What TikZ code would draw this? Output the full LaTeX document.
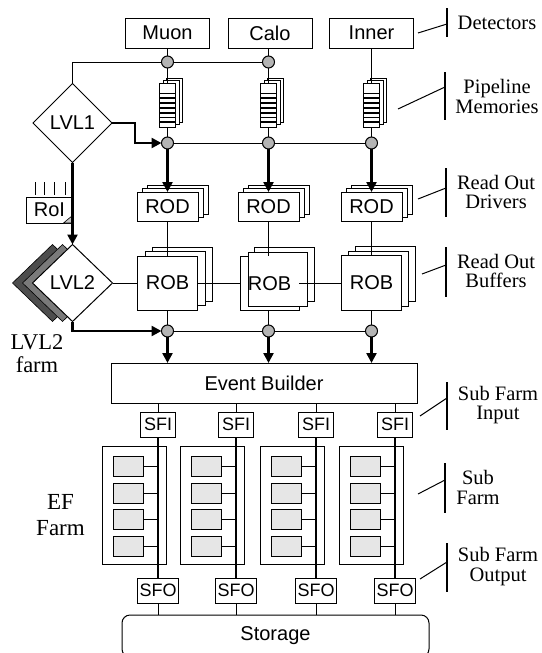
\documentclass[tikz,border=0pt]{standalone}
\usepackage{fontspec}
\setmainfont{Liberation Sans}
\newfontfamily\labelserif{Liberation Serif}
\usetikzlibrary{arrows.meta,shapes.geometric}
\definecolor{jgray}{HTML}{B4B4B4}
\definecolor{cgray}{HTML}{E6E6E6}
\definecolor{gdark}{HTML}{4D4D4D}
\definecolor{gmid}{HTML}{7A7A7A}
\tikzset{
  box/.style={draw,fill=white,line width=1pt,inner sep=0pt,outer sep=0pt,font=\fontsize{20}{22}\selectfont},
  smallbox/.style={box,font=\fontsize{18}{20}\selectfont},
  backbox/.style={draw,fill=white,line width=1pt},
  junc/.style={circle,draw,fill=jgray,line width=1pt,minimum size=12pt,inner sep=0pt,outer sep=0pt},
  conn/.style={line width=1pt},
  busline/.style={line width=2pt},
  thickarrow/.style={line width=2.4pt,-{Triangle[length=10pt,width=10pt]}},
  lbl/.style={font=\labelserif\fontsize{20.5}{19.5}\selectfont,align=center,inner sep=0pt},
  diam/.style={diamond,draw,fill=white,line width=1pt,inner sep=0pt,outer sep=0pt,minimum width=80pt,minimum height=77pt,font=\fontsize{20}{22}\selectfont},
  bracket/.style={line width=1.3pt},
}
\begin{document}
\begin{tikzpicture}[x=1pt,y=-1pt]
\useasboundingbox (0,0) rectangle (541,653);
\clip (0,0) rectangle (541,653);

% ---------- detectors
\node[box,minimum width=84pt,minimum height=30pt] (muon) at (167.5,33) {Muon};
\node[box,minimum width=84pt,minimum height=30pt] (calo) at (270,33) {Calo};
\node[box,minimum width=84pt,minimum height=30pt] (inner) at (371.5,33) {Inner};

% ---------- pipeline memories
\foreach \nn/\cx in {m/167.5,c/268.5,i/371.5}{
  \draw[backbox] ({\cx-1},78) rectangle ({\cx+15},122);
  \draw[backbox] ({\cx-4.5},80.5) rectangle ({\cx+11.5},124.5);
  \node[box,minimum width=16pt,minimum height=44pt] (p\nn) at (\cx,105) {};
  \foreach \kk in {0,...,6}
    \draw[line width=1.8pt] ({\cx-8},{93.5+4.8*\kk}) -- ({\cx+8},{93.5+4.8*\kk});
}

% ---------- junctions
\node[junc] (j1m) at (167.5,62) {};
\node[junc] (j1c) at (268.5,62) {};
\foreach \nn/\cx in {m/167.5,c/268.5,i/371.5}{
  \node[junc] (j2\nn) at (\cx,143) {};
  \node[junc] (j3\nn) at (\cx,331) {};
}

% ---------- LVL1 and RoI
\node[diam,minimum width=79pt,minimum height=79pt] (lvl1) at (72.5,123) {LVL1};
\foreach \xx in {35,44,54,65} \draw[conn] (\xx,182) -- (\xx,195);
\node[box,minimum width=46pt,minimum height=26pt] (roi) at (49.5,210) {RoI};
\filldraw[fill=gray!45,line width=0.6pt] (63.5,223) -- (72.5,215.5) -- (72.5,223) -- cycle;

% ---------- LVL2 farm
\node[diam,fill=gdark,line width=0.6pt] (lvl2b) at (52.5,283) {};
\node[diam,fill=gmid,line width=0.6pt] (lvl2a) at (62.5,283) {};
\node[diam] (lvl2) at (72.5,283) {LVL2};

% ---------- RODs
\foreach \nn/\cx in {m/167.5,c/268.5,i/371.5}{
  \draw[backbox] ({\cx-20.5},185) rectangle ({\cx+40.5},214);
  \draw[backbox] ({\cx-25.5},188.5) rectangle ({\cx+35.5},217.5);
  \node[box,minimum width=61pt,minimum height=29pt] (rod\nn) at (\cx,206.5) {ROD};
}

% ---------- ROBs
\draw[backbox] (152.5,247) rectangle (212.5,301);
\draw[backbox] (145,251.5) rectangle (205,305.5);
\node[box,minimum width=60pt,minimum height=54pt] (robm) at (167.5,283) {ROB};

\coordinate (robcsw) at (240,310);
\coordinate (robcne) at (299,256);
\draw[backbox] (254,247) rectangle (314,301);
\draw[backbox] (robcsw) rectangle (robcne);
\node[box,minimum width=59pt,minimum height=54pt] (robc) at (277.5,279) {};
\node[inner sep=0pt,font=\fontsize{20}{22}\selectfont] (robctext) at (269.5,284) {ROB};

\draw[backbox] (355.5,246.5) rectangle (415.5,301.5);
\draw[backbox] (348.5,251) rectangle (408.5,306);
\node[box,minimum width=60pt,minimum height=55pt] (robi) at (371.5,283) {ROB};

% ---------- event builder
\node[box,minimum width=306pt,minimum height=40pt] (eb) at (264,383) {Event Builder};

% ---------- sub farms
\foreach \nn/\bx in {1/158,2/236,3/316,4/395}{
  \node[box,minimum width=64pt,minimum height=118pt] (sf\nn) at ({\bx-24},505) {};
  \foreach \rr/\yy in {1/466,2/493,3/519,4/546}
    \node[box,fill=cgray,minimum width=30pt,minimum height=20pt] (c\nn\rr) at ({\bx-30},\yy) {};
  \node[smallbox,minimum width=35pt,minimum height=25pt] (sfi\nn) at (\bx,424.5) {SFI};
  \node[smallbox,minimum width=41pt,minimum height=25pt] (sfo\nn) at (\bx,590.5) {SFO};
}

% ---------- storage
\node[box,rounded corners=8pt,minimum width=307pt,minimum height=42pt] (storage) at (275.5,636) {Storage};

% ---------- connectors (top part)
\draw[conn] (muon.south) -- (j1m.north);
\draw[conn] (calo.south -| j1c) -- (j1c.north);
\draw[conn] (inner.south) -- (pi.north);
\draw[conn] (lvl1.north) |- (j1m.west);
\draw[conn] (j1m.east) -- (j1c.west);
\draw[conn] (j1m.south) -- (pm.north);
\draw[conn] (j1c.south) -- (pc.north);
\foreach \nn in {m,c,i} \draw[conn] (p\nn.south) -- (j2\nn.north);
\draw[conn] (j2m.east) -- (j2c.west);
\draw[conn] (j2c.east) -- (j2i.west);
\draw[thickarrow] (lvl1.east) -- ++(23,0) |- (j2m.west);
\foreach \nn in {m,c,i} \draw[thickarrow] (j2\nn.south) -- (rod\nn.north);

% ---------- ROD to ROB
\draw[conn] (rodm.south) -- (robm.north);
\draw[conn] (rodc.south) -- (rodc.south |- robcne);
\draw[conn] (rodi.south) -- (robi.north);
\draw[conn] (lvl2.east) -- (robm.west);
\draw[conn] (robm.east) -- (robm.east -| robcsw);
\draw[conn] (robm.east -| robcne) -- (robi.west);

% ---------- ROB to event builder
\draw[conn] (robm.south) -- (j3m.north);
\draw[conn] (j3c |- robcsw) -- (j3c.north);
\draw[conn] (robi.south) -- (j3i.north);
\draw[conn] (j3m.east) -- (j3c.west);
\draw[conn] (j3c.east) -- (j3i.west);
\draw[thickarrow] (lvl2.south) |- (j3m.west);
\draw[thickarrow] (lvl1.south) -- (lvl2.north);
\foreach \nn in {m,c,i} \draw[thickarrow] (j3\nn.south) -- (j3\nn.south |- eb.north);

% ---------- farm connectors
\foreach \nn in {1,...,4}{
  \draw[conn] (eb.south -| sfi\nn.north) -- (sfi\nn.north);
  \draw[busline] (sfi\nn.south) -- (sfo\nn.north);
  \foreach \rr in {1,...,4} \draw[conn] (c\nn\rr.east) -- (c\nn\rr.east -| sfi\nn.south);
  \draw[conn] (sfo\nn.south) -- (sfo\nn.south |- storage.north);
}

% ---------- right-hand labels
\foreach \nm/\bx/\ya/\yb/\px/\py/\jy in {det/447/8/37/418/33/24, pip/445/72/120/398/109/87, rod/446/168/217/418/199/188, rob/446/247/297/422/274/265, sfi/447/382/430/420/416/398, sf/445/463/513/418/494/480, sfo/447/543/592/420/579/562}{
  \coordinate (br\nm-a) at (\bx,\ya);
  \coordinate (br\nm-b) at (\bx,\yb);
  \coordinate (br\nm-j) at (\bx,\jy);
  \coordinate (br\nm-p) at (\px,\py);
  \draw[bracket] (br\nm-a) -- (br\nm-b);
  \draw[conn] (br\nm-p) -- (br\nm-j);
}
\node[lbl] (tdet) at (497,23) {Detectors};
\node[lbl] (tpip) at (497,96.5) {Pipeline\\Memories};
\node[lbl] (trod) at (496,192) {Read Out\\Drivers};
\node[lbl] (trob) at (496,271) {Read Out\\Buffers};
\node[lbl] (tsfi) at (498,405) {Sub Farm\\Input};
\node[lbl] (tsf) at (478,487.5) {Sub\\Farm};
\node[lbl] (tsfo) at (498,566.5) {Sub Farm\\Output};

% ---------- left-hand labels
\node[lbl,font=\labelserif\fontsize{22.5}{23}\selectfont] (tlvl2farm) at (37,353.5) {LVL2\\farm};
\node[lbl,font=\labelserif\fontsize{23}{25.5}\selectfont] (tef) at (60.5,515) {EF\\Farm};
\end{tikzpicture}
\end{document}
